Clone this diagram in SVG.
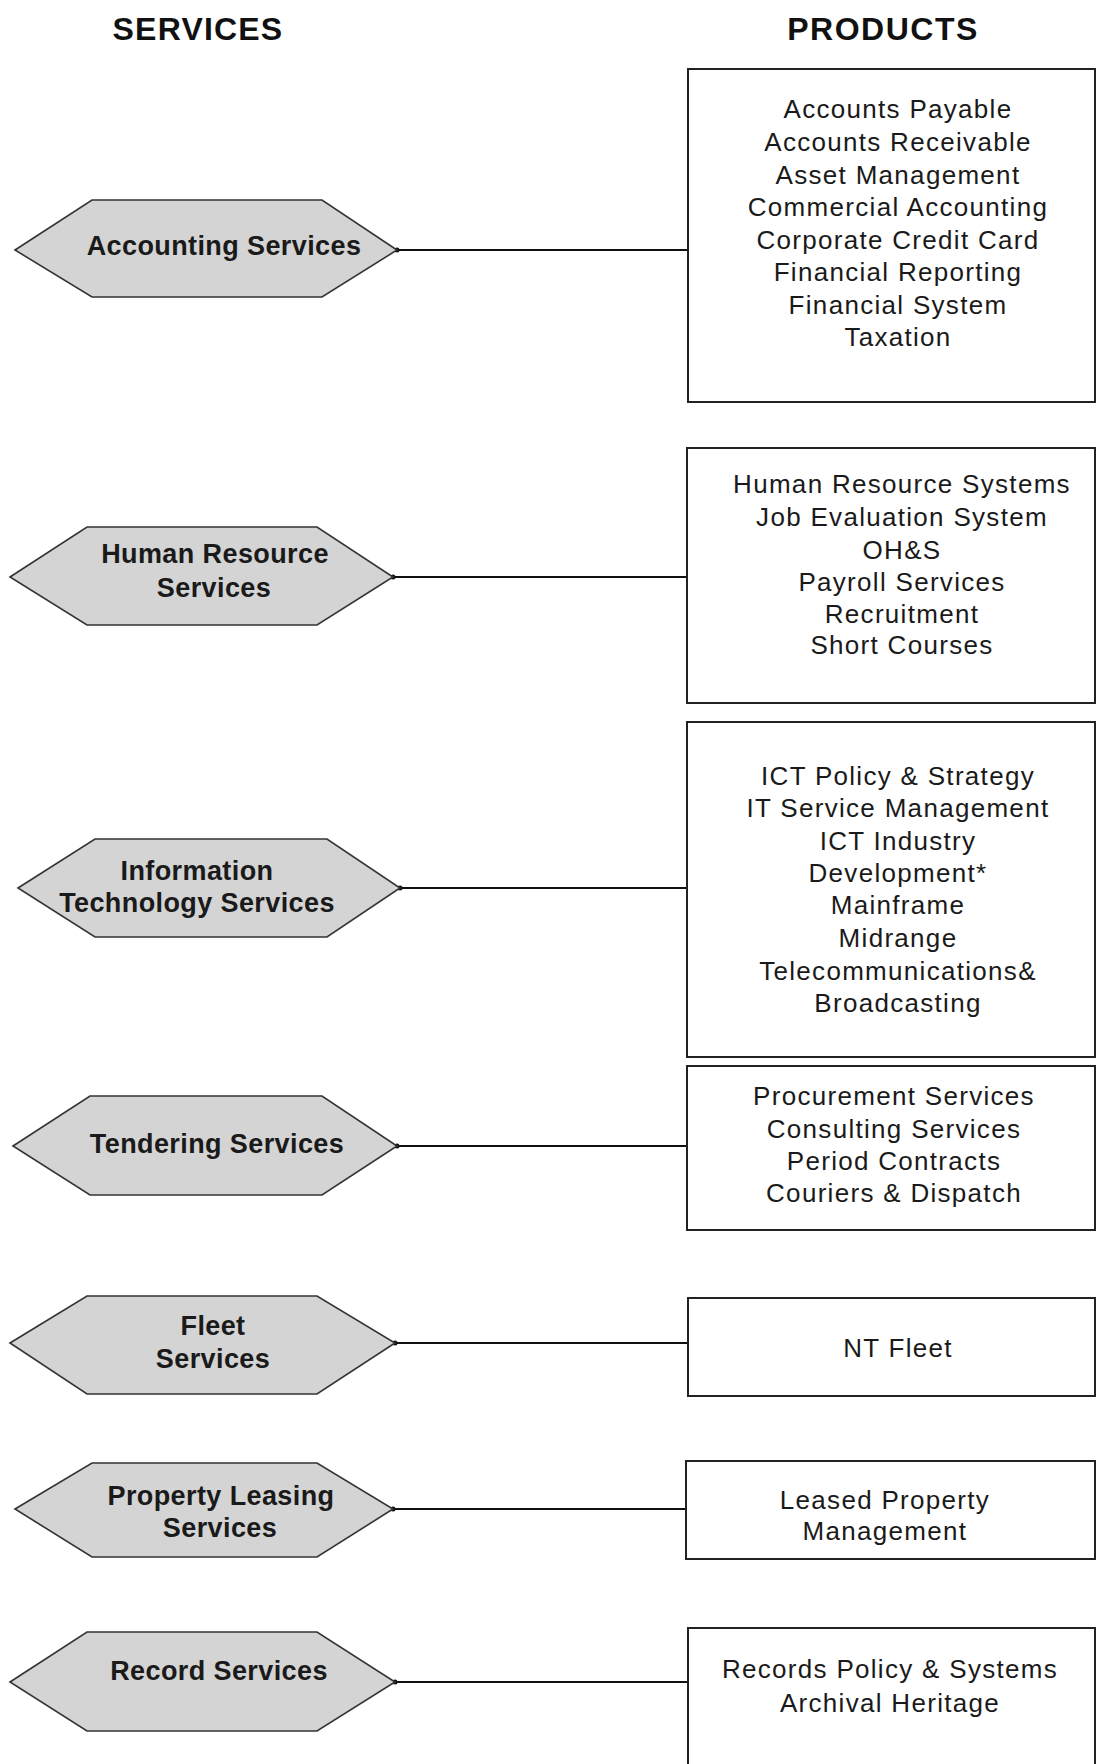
<svg xmlns="http://www.w3.org/2000/svg" width="1096" height="1764" viewBox="0 0 1096 1764">
<style>
.hdr{font-family:"Liberation Sans",Arial,sans-serif;font-weight:bold;font-size:32px;fill:#111;text-anchor:middle}
.hex{fill:#d4d4d4;stroke:#333;stroke-width:1.6}
.svc{font-family:"Liberation Sans",Arial,sans-serif;font-weight:bold;font-size:27px;fill:#1a1a1a;text-anchor:middle;letter-spacing:0.4px}
.box{fill:#fff;stroke:#222;stroke-width:2}
.prd{font-family:"Liberation Sans",Arial,sans-serif;font-size:26px;fill:#1a1a1a;text-anchor:middle;letter-spacing:1.3px}
.con{stroke:#111;stroke-width:2;fill:none}
.dot{fill:#111}
</style>
<rect width="1096" height="1764" fill="#fff"/>
<text class="hdr" x="198" y="40" style="letter-spacing:1.2px">SERVICES</text>
<text class="hdr" x="883" y="40" style="letter-spacing:1.5px">PRODUCTS</text>

<g id="connectors">
<line class="con" x1="397" y1="250" x2="688" y2="250"/>
<circle class="dot" cx="397" cy="250" r="2.5"/>
<line class="con" x1="393" y1="577" x2="687" y2="577"/>
<circle class="dot" cx="393" cy="577" r="2.5"/>
<line class="con" x1="400" y1="888" x2="687" y2="888"/>
<circle class="dot" cx="400" cy="888" r="2.5"/>
<line class="con" x1="397" y1="1146" x2="687" y2="1146"/>
<circle class="dot" cx="397" cy="1146" r="2.5"/>
<line class="con" x1="395" y1="1343" x2="688" y2="1343"/>
<circle class="dot" cx="395" cy="1343" r="2.5"/>
<line class="con" x1="393" y1="1509" x2="686" y2="1509"/>
<circle class="dot" cx="393" cy="1509" r="2.5"/>
<line class="con" x1="395" y1="1682" x2="688" y2="1682"/>
<circle class="dot" cx="395" cy="1682" r="2.5"/>
</g>

<g id="svc-accounting">
<polygon class="hex" points="15,250 92,200 322,200 397,250 322,297 92,297"/>
<text class="svc" x="224" y="255">Accounting Services</text>
</g>
<g id="svc-hr">
<polygon class="hex" points="10,577 87,527 317,527 393,577 317,625 87,625"/>
<text class="svc" x="215" y="563">Human Resource</text>
<text class="svc" x="214" y="597">Services</text>
</g>
<g id="svc-it">
<polygon class="hex" points="18,888 95,839 327,839 400,888 327,937 95,937"/>
<text class="svc" x="197" y="880">Information</text>
<text class="svc" x="197" y="912">Technology Services</text>
</g>
<g id="svc-tendering">
<polygon class="hex" points="13,1146 90,1096 322,1096 397,1146 322,1195 90,1195"/>
<text class="svc" x="217" y="1153">Tendering Services</text>
</g>
<g id="svc-fleet">
<polygon class="hex" points="10,1343 87,1296 317,1296 395,1343 317,1394 87,1394"/>
<text class="svc" x="213" y="1335">Fleet</text>
<text class="svc" x="213" y="1368">Services</text>
</g>
<g id="svc-property">
<polygon class="hex" points="15,1509 92,1463 317,1463 393,1509 317,1557 92,1557"/>
<text class="svc" x="221" y="1505">Property Leasing</text>
<text class="svc" x="220" y="1537">Services</text>
</g>
<g id="svc-record">
<polygon class="hex" points="10,1682 87,1632 317,1632 395,1682 317,1731 87,1731"/>
<text class="svc" x="219" y="1680">Record Services</text>
</g>

<g id="prd-accounting">
<rect class="box" x="688" y="69" width="407" height="333"/>
<text class="prd" x="898" y="118">Accounts Payable</text>
<text class="prd" x="898" y="151">Accounts Receivable</text>
<text class="prd" x="898" y="184">Asset Management</text>
<text class="prd" x="898" y="216">Commercial Accounting</text>
<text class="prd" x="898" y="249">Corporate Credit Card</text>
<text class="prd" x="898" y="281">Financial Reporting</text>
<text class="prd" x="898" y="314">Financial System</text>
<text class="prd" x="898" y="346">Taxation</text>
</g>
<g id="prd-hr">
<rect class="box" x="687" y="448" width="408" height="255"/>
<text class="prd" x="902" y="493">Human Resource Systems</text>
<text class="prd" x="902" y="526">Job Evaluation System</text>
<text class="prd" x="902" y="559">OH&amp;S</text>
<text class="prd" x="902" y="591">Payroll Services</text>
<text class="prd" x="902" y="623">Recruitment</text>
<text class="prd" x="902" y="654">Short Courses</text>
</g>
<g id="prd-it">
<rect class="box" x="687" y="722" width="408" height="335"/>
<text class="prd" x="898" y="785">ICT Policy &amp; Strategy</text>
<text class="prd" x="898" y="817">IT Service Management</text>
<text class="prd" x="898" y="850">ICT Industry</text>
<text class="prd" x="898" y="882">Development*</text>
<text class="prd" x="898" y="914">Mainframe</text>
<text class="prd" x="898" y="947">Midrange</text>
<text class="prd" x="898" y="980">Telecommunications&amp;</text>
<text class="prd" x="898" y="1012">Broadcasting</text>
</g>
<g id="prd-tendering">
<rect class="box" x="687" y="1066" width="408" height="164"/>
<text class="prd" x="894" y="1105">Procurement Services</text>
<text class="prd" x="894" y="1138">Consulting Services</text>
<text class="prd" x="894" y="1170">Period Contracts</text>
<text class="prd" x="894" y="1202">Couriers &amp; Dispatch</text>
</g>
<g id="prd-fleet">
<rect class="box" x="688" y="1298" width="407" height="98"/>
<text class="prd" x="898" y="1357">NT Fleet</text>
</g>
<g id="prd-property">
<rect class="box" x="686" y="1461" width="409" height="98"/>
<text class="prd" x="885" y="1509">Leased Property</text>
<text class="prd" x="885" y="1540">Management</text>
</g>
<g id="prd-record">
<rect class="box" x="688" y="1628" width="407" height="150"/>
<text class="prd" x="890" y="1678">Records Policy &amp; Systems</text>
<text class="prd" x="890" y="1712">Archival Heritage</text>
</g>
</svg>
